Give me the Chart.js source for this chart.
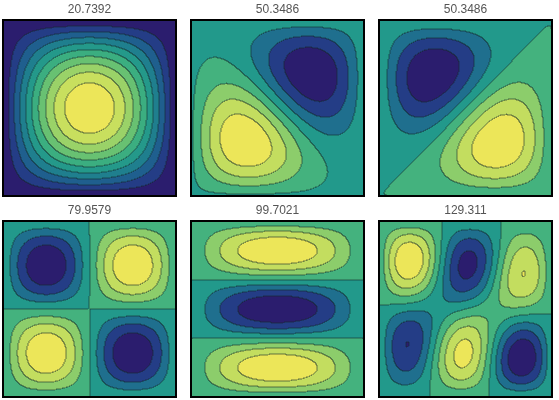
<!DOCTYPE html>
<html><head>
<script src="https://cdn.jsdelivr.net/npm/chart.js@4"></script>
<style>body{margin:0;background:#fff}.p{position:absolute;width:179px;height:199px}</style>
</head><body>
<div class="p" style="left:0px;top:0px"><canvas id="c0"></canvas></div>
<div class="p" style="left:188px;top:0px"><canvas id="c1"></canvas></div>
<div class="p" style="left:376px;top:0px"><canvas id="c2"></canvas></div>
<div class="p" style="left:0px;top:201px"><canvas id="c3"></canvas></div>
<div class="p" style="left:188px;top:201px"><canvas id="c4"></canvas></div>
<div class="p" style="left:376px;top:201px"><canvas id="c5"></canvas></div>
<script>
// eigenvalues shown as panel titles
const titles = ["20.7392","50.3486","50.3486","79.9579","99.7021","129.311"];
// mode mixtures: [m, n, coefficient] for sin(m*pi*x)*sin(n*pi*y) (y measured from top)
const modes0 = [[1,1,1]];
const modes1 = [[2,1,1],[1,2,-1],[1,1,0.15]];
const modes2 = [[2,1,-1],[1,2,-1]];
const modes3 = [[2,2,-1]];
const modes4 = [[1,3,1]];
const modes5 = [[3,2,1],[2,3,0.25]];
const allModes = [modes0,modes1,modes2,modes3,modes4,modes5];
const levelCounts = [10,8,8,8,8,8];
const palette10 = ["#2b1d6e","#243d86","#1f5f8e","#1f7f8e","#24998a","#3bae80","#68c172","#9ad268","#c8df5e","#ece659"];
const palette8 = ["#2b1d6e","#243d86","#1f6f8e","#22998b","#44b27e","#8ccd6b","#c3dd5f","#ece659"];

function field(ms,x,y){let s=0;for(const [m,n,c] of ms)s+=c*Math.sin(m*Math.PI*x)*Math.sin(n*Math.PI*y);return s;}

const contourPlugin = {
  id:'contour',
  beforeDatasetsDraw(chart){
    const o = chart.options.plugins.contour;
    const ms=o.modes, NL=o.levels, palette=NL===10?palette10:palette8;
    const xs = chart.scales.x, ys = chart.scales.y, ctx = chart.ctx;
    const x0=Math.round(xs.getPixelForValue(0)), x1=Math.round(xs.getPixelForValue(1));
    const yT=Math.round(ys.getPixelForValue(1)), yB=Math.round(ys.getPixelForValue(0));
    const W=x1-x0, H=yB-yT;
    const vals=[];let mn=Infinity,mx=-Infinity;
    for(let j=0;j<H;j++){const row=[];for(let i=0;i<W;i++){
      const v=field(ms,xs.getValueForPixel(x0+i+0.5),1-ys.getValueForPixel(yT+j+0.5));
      row.push(v);mn=Math.min(mn,v);mx=Math.max(mx,v);}vals.push(row);}
    const lv=vals.map(r=>r.map(v=>Math.min(NL-1,Math.floor((v-mn)/(mx-mn)*NL))));
    for(let j=0;j<H;j++)for(let i=0;i<W;i++){ctx.fillStyle=palette[lv[j][i]];ctx.fillRect(x0+i,yT+j,1,1);}
    ctx.fillStyle='rgba(20,40,40,0.6)';
    for(let j=0;j<H;j++)for(let i=0;i<W;i++){
      if(i+1<W&&lv[j][i]!==lv[j][i+1])ctx.fillRect(x0+i+0.5,yT+j,1,1);
      else if(j+1<H&&lv[j][i]!==lv[j+1][i])ctx.fillRect(x0+i,yT+j+0.5,1,1);}
    ctx.strokeStyle='#000';ctx.lineWidth=2;ctx.strokeRect(x0,yT,W,H);
  }
};

allModes.forEach((ms,k)=>{
  new Chart(document.getElementById('c'+k),{
    type:'scatter',
    data:{datasets:[{data:[]}]},
    options:{responsive:true,maintainAspectRatio:false,animation:false,
      layout:{padding:{left:3,right:3,top:0,bottom:3}},
      scales:{x:{type:'linear',min:0,max:1,display:false},y:{type:'linear',min:0,max:1,display:false}},
      plugins:{legend:{display:false},tooltip:{enabled:false},
        title:{display:true,text:titles[k],color:'#555',font:{family:'Arial, Liberation Sans',size:12,weight:'normal'},padding:{top:2,bottom:4}},
        contour:{modes:ms,levels:levelCounts[k]}}},
    plugins:[contourPlugin]
  });
});
</script>
</body></html>
